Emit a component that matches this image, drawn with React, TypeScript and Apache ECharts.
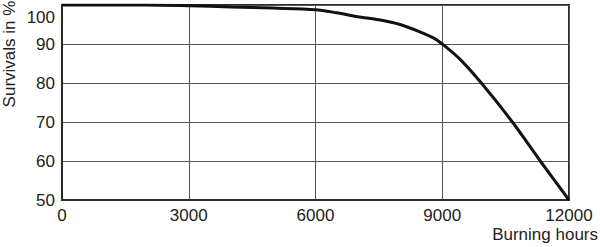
import React, { useEffect, useRef } from "react";
import * as echarts from "echarts";

const hours = [0, 1000, 2000, 3000, 4000, 5000, 6000, 6500, 7000, 7500, 8000, 8500, 8800, 9000, 9400, 9900, 10660, 11320, 12000];
const survivals = [100, 100, 100, 99.8, 99.5, 99.2, 98.8, 98.0, 97.0, 96.2, 95.0, 93.0, 91.5, 90, 86.3, 80.3, 70, 60, 50];
const xTicks = [0, 3000, 6000, 9000, 12000];
const yTicks = [50, 60, 70, 80, 90, 100];
const xTitle = "Burning hours";
const yTitle = "Survivals in %";

export default function App() {
  const ref = useRef<HTMLDivElement>(null);
  useEffect(() => {
    if (!ref.current) return;
    const chart = echarts.init(ref.current, null, { renderer: "svg" });
    const font = "'Liberation Sans', Arial, sans-serif";
    chart.setOption({
      animation: false,
      backgroundColor: "#ffffff",
      grid: {
        left: 62,
        right: 31,
        top: 5,
        bottom: 47,
        show: true,
        borderColor: "#2a2a2a",
        borderWidth: 2,
        containLabel: false,
      },
      xAxis: {
        type: "value",
        min: xTicks[0],
        max: xTicks[xTicks.length - 1],
        interval: 3000,
        axisLine: { show: true, lineStyle: { color: "#2a2a2a", width: 2 } },
        axisTick: { show: false },
        axisLabel: {
          color: "#222",
          fontSize: 17,
          fontFamily: font,
          margin: 7,
          formatter: (v: number) => String(v),
        },
        splitLine: { show: true, lineStyle: { color: "#555", width: 1 } },
      },
      yAxis: {
        type: "value",
        min: yTicks[0],
        max: yTicks[yTicks.length - 1],
        interval: 10,
        axisLine: { show: true, lineStyle: { color: "#2a2a2a", width: 2 } },
        axisTick: { show: false },
        axisLabel: {
          color: "#222",
          fontSize: 17,
          fontFamily: font,
          margin: 7,
          padding: [4, 0, 0, 0],
          verticalAlignMaxLabel: "top",
          formatter: (v: number) => String(v),
        },
        splitLine: { show: true, lineStyle: { color: "#555", width: 1 } },
      },
      graphic: [
        {
          type: "text",
          right: 2,
          top: 226,
          style: { text: xTitle, fill: "#222", font: `17px ${font}` },
        },
        {
          type: "text",
          x: 9,
          y: 54,
          rotation: Math.PI / 2,
          style: {
            text: yTitle,
            fill: "#222",
            font: `17px ${font}`,
            align: "center",
            verticalAlign: "middle",
          },
        },
      ],
      series: [
        {
          type: "line",
          data: hours.map((h, i) => [h, survivals[i]]),
          smooth: 0.3,
          showSymbol: false,
          lineStyle: { color: "#111", width: 3 },
          z: 5,
        },
      ],
    });
    return () => chart.dispose();
  }, []);
  return <div ref={ref} style={{ width: 600, height: 247, position: "absolute", left: 0, top: 0 }} />;
}
